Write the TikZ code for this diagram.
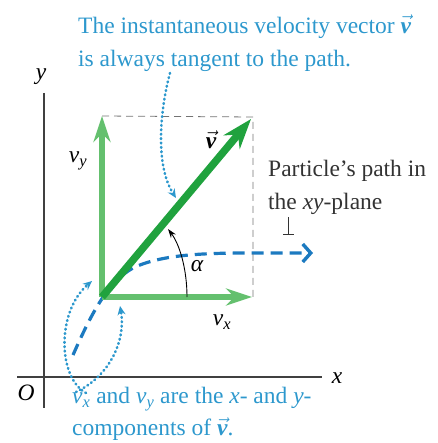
\documentclass[tikz,border=0pt]{standalone}
\usepackage{fontspec}
\setmainfont{Liberation Serif}
\usepackage{tikz}
\usetikzlibrary{arrows.meta}
\definecolor{captionblue}{RGB}{45,152,205}
\definecolor{pathblue}{RGB}{28,122,192}
\definecolor{compgreen}{RGB}{100,192,110}
\definecolor{vecgreen}{RGB}{32,162,62}
\newcommand{\vecv}{$\vec{\mbox{\bfseries\itshape v}}$}
\newcommand{\vcomp}[1]{\textit{v}\textsubscript{\itshape #1}}

\begin{document}
\begin{tikzpicture}[
  x=1pt, y=-1pt,
  >=Stealth,
  % text styles
  note/.style={font=\fontsize{23.5}{33}\selectfont, align=left, inner sep=0pt},
  caption/.style={note, text=captionblue},
  sym/.style={font=\fontsize{23.5}{28}\selectfont\itshape, inner sep=0pt},
  % line styles
  axis/.style={line width=1.4pt, draw=black!75},
  guide/.style={dash pattern=on 7pt off 5pt, line width=0.8pt, draw=black!55},
  comp/.style={line width=6pt, draw=compgreen, -{Stealth[length=26pt,width=17pt]}},
  velo/.style={line width=7.5pt, draw=vecgreen, -{Stealth[length=30pt,width=21pt]}},
  trail/.style={line width=3.2pt, draw=pathblue, dash pattern=on 12pt off 7pt,
    -{Straight Barb[length=8pt,width=18pt,line width=3.4pt]}},
  leader/.style={line width=2.6pt, draw=captionblue, line cap=round,
    dash pattern=on 0.8pt off 3.6pt, -{Stealth[length=9pt,width=8pt,line cap=butt]}}
]
\useasboundingbox (0,0) rectangle (437,443);

% axes
\coordinate (O) at (44,377);
\draw[axis] (17,377) -- (322,377);
\draw[axis] (44,93) -- (44,408);
\node[sym] (xlab) at (337,378) {x};
\node[sym] (ylab) at (41,77) {y};
\node[sym] (olab) at (26,393) {O};

% particle path
\coordinate (P) at (102,297);
\draw[trail] (73,355) .. controls (92,312) and (108,282) .. (133,268)
  .. controls (160,255) and (200,253) .. (250,253) -- (313,253);

% components and velocity
\coordinate (vy) at (102,116);
\coordinate (vx) at (252,297);
\coordinate (vt) at (251,119);
\draw[guide] (vy) -- (253,117) -- (253,297);
\draw[comp] (P) -- (vy);
\draw[comp] (P) -- (vx);
\draw[velo] (P) -- (vt);

% angle
\draw[line width=0.9pt, -{Stealth[length=9pt,width=6pt]}] (187,297) .. controls (187,270) and (180,245) .. (168,229);
\node[sym] (alpha) at (197,266) {α};

% labels
\node[note] (vlab) at (211,140) {\vecv};
\node[note] (vylab) at (78,161) {\vcomp{y}};
\node[note] (vxlab) at (222,322) {\vcomp{x}};

% captions
\node[caption, anchor=north west] (topnote) at (78,15)
  {The instantaneous velocity vector \vecv\\is always tangent to the path.};
\node[note, text=black!80, anchor=north west] (pathnote) at (268,160)
  {Particle’s path in\\the \textit{xy}-plane};
\node[caption, font=\fontsize{23.5}{32}\selectfont, anchor=north west] (botnote) at (72,387)
  {\vcomp{x} and \vcomp{y} are the \textit{x}- and \textit{y}-\\components of \vecv.};

% leaders
\coordinate (tick) at (288,235);
\draw[line width=0.9pt, draw=black!80, -{Bar[width=11pt,line width=0.9pt]}] (288,217) -- (tick);
\draw[leader] (170,73) .. controls (160,110) and (155,165) .. (176,198);
\draw[leader] (86,393) .. controls (58,378) and (56,312) .. (92,281);
\draw[leader] (76,392) .. controls (110,376) and (126,340) .. (120,306);

\end{tikzpicture}
\end{document}
